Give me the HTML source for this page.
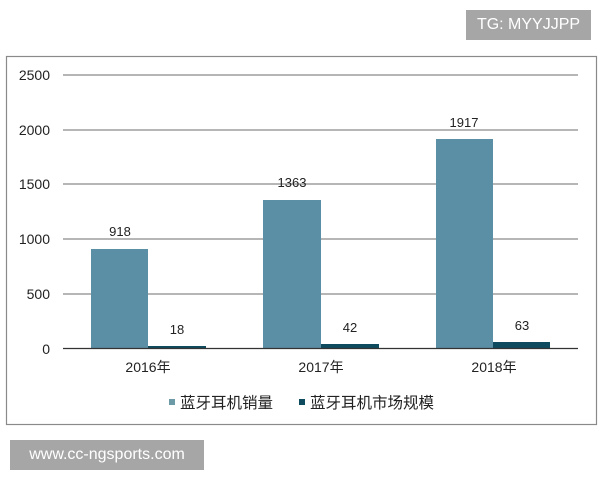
<!DOCTYPE html>
<html><head><meta charset="utf-8"><style>
body{margin:0;width:600px;height:480px;background:#fff;overflow:hidden;position:relative;font-family:"Liberation Sans","Noto Sans CJK SC",sans-serif;}
.a{position:absolute;}
</style></head><body>
<div class="a" style="left:466px;top:10px;width:125px;height:30px;background:#a6a6a6;color:#fff;font-size:16px;line-height:30px;text-align:center;">TG: MYYJJPP</div>
<div class="a" style="left:10px;top:440px;width:194px;height:30px;background:#a6a6a6;color:#fff;font-size:16px;line-height:30px;text-align:center;">www.cc-ngsports.com</div>
<svg class="a" style="left:0;top:0" width="600" height="480" font-family="Liberation Sans, Noto Sans CJK SC, sans-serif">
<rect x="6.5" y="56.5" width="590" height="368" fill="none" stroke="#8a8a8a" stroke-width="1.2"/>
<g stroke="#8a8a8a" stroke-width="1.3">
<line x1="63" y1="75" x2="578" y2="75"/>
<line x1="63" y1="130" x2="578" y2="130"/>
<line x1="63" y1="184" x2="578" y2="184"/>
<line x1="63" y1="239" x2="578" y2="239"/>
<line x1="63" y1="294" x2="578" y2="294"/>
</g>
<g font-size="14" fill="#222" text-anchor="end">
<text x="50" y="80">2500</text>
<text x="50" y="135">2000</text>
<text x="50" y="189">1500</text>
<text x="50" y="244">1000</text>
<text x="50" y="299">500</text>
<text x="50" y="354">0</text>
</g>
<g fill="#5b8fa5">
<rect x="91" y="249" width="57" height="99"/>
<rect x="263" y="200" width="58" height="148"/>
<rect x="436" y="139" width="57" height="209"/>
</g>
<g fill="#0f4b5e">
<rect x="148" y="346" width="58" height="2"/>
<rect x="321" y="344" width="58" height="4"/>
<rect x="493" y="342" width="57" height="6"/>
</g>
<line x1="63" y1="348.5" x2="578" y2="348.5" stroke="#333" stroke-width="1.3"/>
<g font-size="13" fill="#222" text-anchor="middle">
<text x="120" y="236">918</text>
<text x="292" y="187">1363</text>
<text x="464" y="127">1917</text>
<text x="177" y="334">18</text>
<text x="350" y="332">42</text>
<text x="522" y="330">63</text>
</g>
<g font-size="14" fill="#222" text-anchor="middle">
<text x="148" y="372">2016年</text>
<text x="321" y="372">2017年</text>
<text x="494" y="372">2018年</text>
</g>
<rect x="169" y="399" width="6" height="6" fill="#6c9aa6"/>
<rect x="299" y="399" width="6" height="6" fill="#0f4b5e"/>
<g font-size="15.5" fill="#222">
<text x="180" y="408">蓝牙耳机销量</text>
<text x="310" y="408">蓝牙耳机市场规模</text>
</g>
</svg>
</body></html>
